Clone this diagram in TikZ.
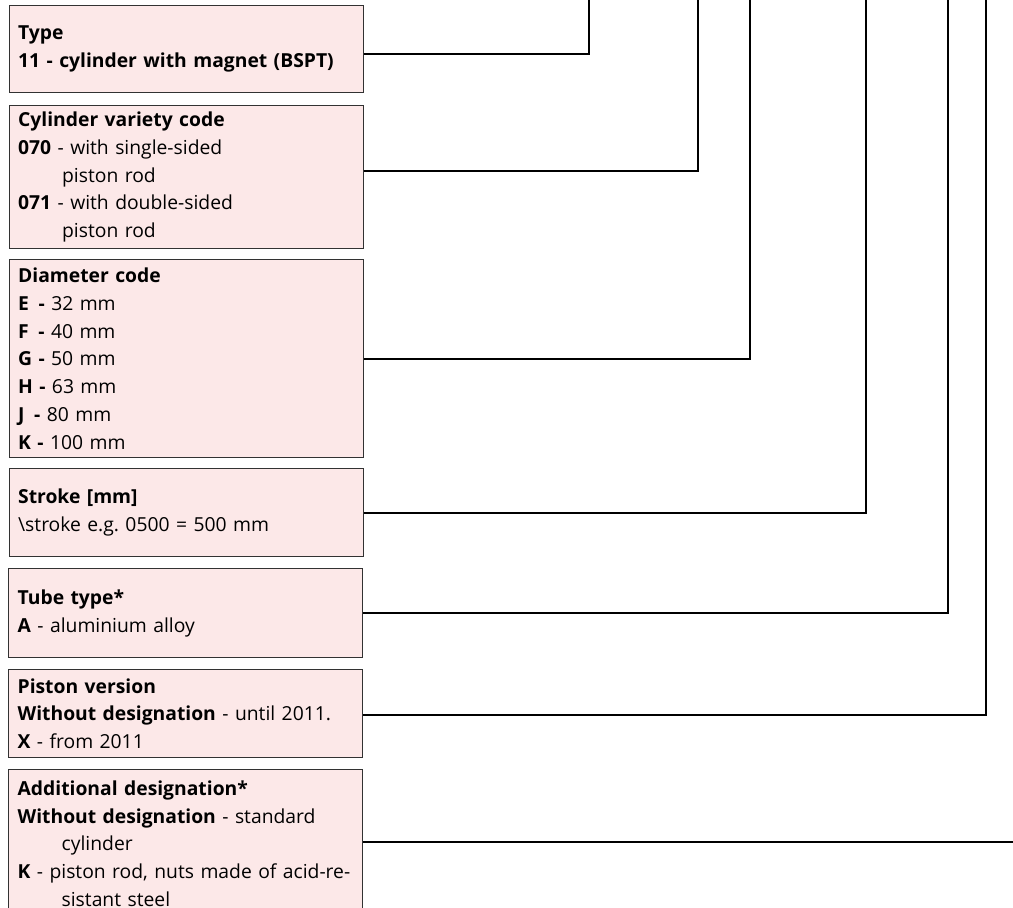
\documentclass[tikz,border=0pt]{standalone}
\usepackage{fontspec}
\setmainfont{Open Sans}
\frenchspacing
\usetikzlibrary{calc}
\definecolor{boxpink}{RGB}{252,232,232}
\definecolor{boxline}{RGB}{50,50,50}
\tikzset{
  code/.style={draw=boxline,line width=1.3pt,fill=boxpink,anchor=north west,
    align=left,text width=336pt,inner xsep=9pt,inner ysep=0pt,
    minimum width=353pt,font=\fontsize{19.3}{27.8}\selectfont},
  link/.style={draw=black,line width=2pt}
}
\newcommand{\ind}{\hspace*{44pt}}
\begin{document}
\begin{tikzpicture}[x=1pt,y=-1pt]
\useasboundingbox (0,0) rectangle (1013,908);
\clip (0,0) rectangle (1013,908);
                      \node[code,minimum height=87pt] (Type) at (8.5,5)
                        {\textbf{Type}\\\textbf{11 - cylinder with magnet (BSPT)}};
                      \node[code,minimum height=143pt] (Var) at (8.5,105)
                        {\textbf{Cylinder variety code}\\\textbf{070} - with single-sided\\\ind piston rod\\
                         \textbf{071} - with double-sided\\\ind piston rod};
                      \node[code,minimum height=198pt] (Dia) at (8.5,259)
                        {\textbf{Diameter code}\\\textbf{E \,-} 32 mm\\\textbf{F \,-} 40 mm\\\textbf{G -} 50 mm\\
                         \textbf{H -} 63 mm\\\textbf{J \,-} 80 mm\\\textbf{K -} 100 mm};
                      \node[code,minimum height=88pt] (Strk) at (8.5,468)
                        {\textbf{Stroke [mm]}\\\textbackslash stroke e.g. 0500 = 500 mm};
                      \node[code,minimum height=89pt] (Tube) at (8,568)
                        {\textbf{Tube type*}\\\textbf{A} - aluminium alloy};
                      \node[code,minimum height=88pt] (Pist) at (8,669)
                        {\textbf{Piston version}\\\textbf{Without designation} - until 2011.\\\textbf{X} - from 2011};
                      \node[code,minimum height=148pt] (Add) at (8,769)
                        {\textbf{Additional designation*}\\\textbf{Without designation} - standard\\\ind cylinder\\
                         \mbox{\textbf{K} - piston rod, nuts made of acid-re-}\\\ind sistant steel};
                      \coordinate (T1) at (589,0);
                      \coordinate (T2) at (698,0);
                      \coordinate (T3) at (750,0);
                      \coordinate (T4) at (866,0);
                      \coordinate (T5) at (948,0);
                      \coordinate (T6) at (986,0);
                      \coordinate (T7) at (1013,0);
                      \path[link] ([yshift=-4.5pt]Type.east) -| (T1);
                      \path[link] ([yshift=6.5pt]Var.east) -| (T2);
                      \path[link] (Dia.east) -| (T3);
                      \path[link] (Strk.east) -| (T4);
                      \path[link] (Tube.east) -| (T5);
                      \path[link] ([yshift=-1pt]Pist.east) -| (T6);
                      \path[link] ([yshift=2pt]Add.east) -- ([yshift=2pt]Add.east -| T7);
                    \end{tikzpicture}
\end{document}
